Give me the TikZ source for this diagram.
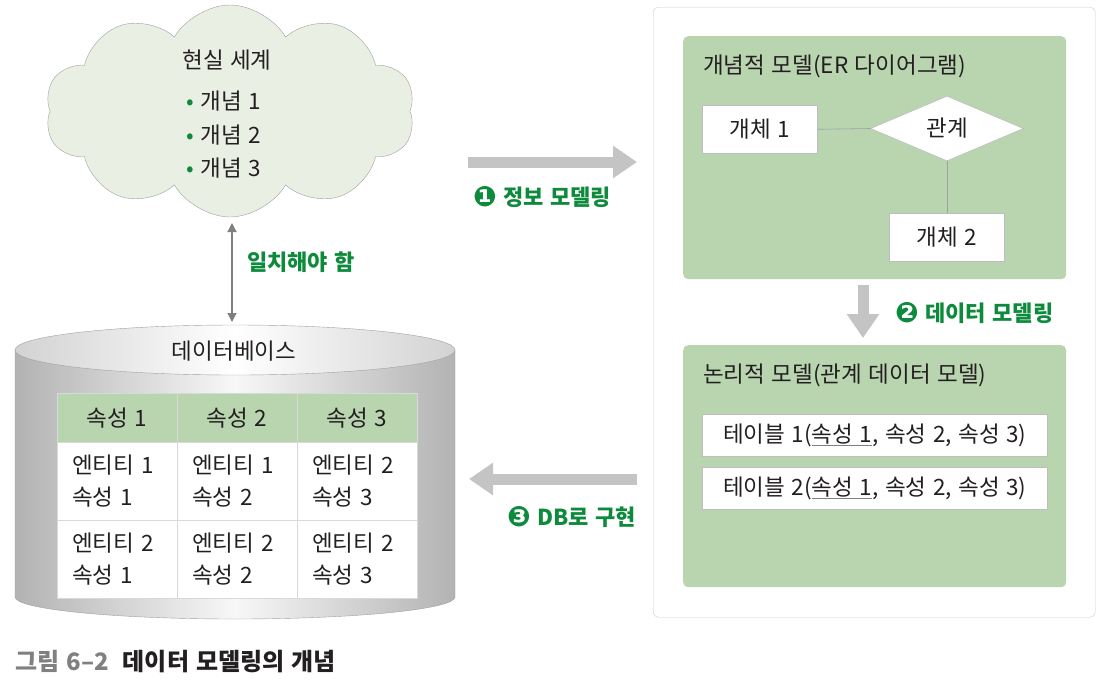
\documentclass[tikz,border=0pt]{standalone}
\usepackage{fontspec}
\setmainfont{Noto Sans CJK KR}[WordSpace=1.3]
\newfontfamily\dingfont{DejaVu Sans}
\usetikzlibrary{shapes.symbols,shapes.geometric,arrows.meta}
\definecolor{boxgreen}{HTML}{B8D5B0}
\definecolor{cloudfill}{HTML}{E9EFE2}
\definecolor{txtgreen}{HTML}{0E8A3C}
\definecolor{arrowgray}{HTML}{C4C4C4}
\definecolor{linegray}{HTML}{A0A0A0}
\definecolor{txt}{HTML}{231F20}
\newcommand\gul[1]{\leavevmode\rlap{\color{gray}\underline{\phantom{#1}}}#1}
\newcommand\dnum[1]{\raisebox{-1pt}{\dingfont\fontsize{28}{28}\selectfont #1}}
\begin{document}
\begin{tikzpicture}[x=1pt,y=-1pt, font=\fontsize{22.5}{26}\selectfont, text=txt,
  whitebox/.style={draw=linegray!70, fill=white, line width=0.6pt, inner sep=0pt},
  greenbox/.style={draw=none, fill=boxgreen, rounded corners=5pt, inner sep=0pt},
  bigarrow/.style={draw=arrowgray, line width=11pt, -{Triangle[length=24pt,width=31pt]}},
  glabel/.style={text=txtgreen, font=\fontsize{22}{26}\selectfont\bfseries, inner sep=0pt},
  hcell/.style={draw=gray!30, fill=boxgreen, minimum width=120pt, minimum height=49pt, inner sep=0pt},
  tcell/.style={draw=gray!30, fill=white, minimum width=120pt, minimum height=78pt, inner sep=0pt, align=left, text width=90pt, font=\fontsize{22.5}{32}\selectfont},
  ]
\useasboundingbox (0,0) rectangle (1103,689);

% cloud
\node[cloud, cloud puffs=10, cloud puff arc=120, aspect=1.75, draw=linegray, fill=cloudfill,
      minimum width=370pt, minimum height=212pt, inner sep=0pt] (cloud) at (230,111) {};
\node (world) at (227,60) {현실 세계};
\node[anchor=west] (c1) at (183,101) {\textcolor{txtgreen}{•} 개념 1};
\node[anchor=west] (c2) at (183,135) {\textcolor{txtgreen}{•} 개념 2};
\node[anchor=west] (c3) at (183,168) {\textcolor{txtgreen}{•} 개념 3};

% match arrow
\coordinate (m1) at (232,223);
\coordinate (m2) at (232,322);
\draw[draw=gray, line width=1.2pt, {Triangle[length=9pt,width=9pt]}-{Triangle[length=9pt,width=9pt]}] (m1) -- (m2);
\node[glabel, anchor=west] (match) at (247,262) {일치해야 함};

% cylinder
\path[left color=gray!60, right color=gray!60, middle color=gray!6, draw=linegray]
  (15,350) -- (15,597) arc[start angle=180, end angle=360, x radius=220pt, y radius=22pt] -- (455,350) -- cycle;
\path[left color=gray!35, right color=gray!35, middle color=white, draw=linegray]
  (235,350) ellipse[x radius=220pt, y radius=25pt];
\node (dbtitle) at (234,351) {데이터베이스};

% table
\node[hcell] (h1) at (117,418) {속성 1};
\node[hcell] (h2) at (237,418) {속성 2};
\node[hcell] (h3) at (357,418) {속성 3};
\node[tcell] (r11) at (117,481.5) {엔티티 1\\속성 1};
\node[tcell] (r12) at (237,481.5) {엔티티 1\\속성 2};
\node[tcell] (r13) at (357,481.5) {엔티티 2\\속성 3};
\node[tcell] (r21) at (117,559.5) {엔티티 2\\속성 1};
\node[tcell] (r22) at (237,559.5) {엔티티 2\\속성 2};
\node[tcell] (r23) at (357,559.5) {엔티티 2\\속성 3};

% right panel
\node[draw=gray!40, fill=white, rounded corners=5pt, anchor=north west,
      minimum width=442pt, minimum height=610pt, inner sep=0pt] (panel) at (653,7) {};
\node[greenbox, anchor=north west, minimum width=383pt, minimum height=243pt] (cm) at (683,36) {};
\node[anchor=west, inner sep=0pt] (cmtitle) at (703,66) {개념적 모델(ER 다이어그램)};
\node[whitebox, anchor=north west, minimum width=115pt, minimum height=48pt] (e1) at (702,105) {개체 1};
\node[diamond, draw=linegray!70, fill=white, line width=0.6pt, inner sep=0pt,
      minimum width=153pt, minimum height=65pt] (rel) at (947,128.5) {관계};
\node[whitebox, minimum width=115pt, minimum height=48pt] (e2) at (947,237) {개체 2};
\draw[linegray, line width=0.6pt] (e1.east) -- (rel.west);
\draw[linegray, line width=0.6pt] (rel.south) -- (e2.north);

\coordinate (d1) at (863,285);
\coordinate (d2) at (863,338);
\draw[bigarrow] (d1) -- (d2);
\node[glabel, anchor=west] (l2) at (895,313) {\dnum{❷} 데이터 모델링};

\node[greenbox, anchor=north west, minimum width=383pt, minimum height=242pt] (lm) at (683,345) {};
\node[anchor=west, inner sep=0pt] (lmtitle) at (703,375) {논리적 모델(관계 데이터 모델)};
\node[whitebox, anchor=north west, minimum width=345pt, minimum height=42pt] (t1) at (702,414) {테이블 1(\gul{속성 1}, 속성 2, 속성 3)};
\node[whitebox, anchor=north west, minimum width=345pt, minimum height=42pt] (t2) at (702,467) {테이블 2(\gul{속성 1}, 속성 2, 속성 3)};

% big arrows
\coordinate (a1) at (468,162);
\coordinate (a2) at (637,162);
\draw[bigarrow] (a1) -- (a2);
\node[glabel, anchor=west] (l1) at (473,197) {\dnum{❶} 정보 모델링};

\coordinate (b1) at (637,479);
\coordinate (b2) at (469,479);
\draw[bigarrow] (b1) -- (b2);
\node[glabel, anchor=west] (l3) at (507,517) {\dnum{❸} DB로 구현};

% caption
\node[anchor=west, inner sep=0pt, font=\fontsize{24}{28}\selectfont\bfseries] (cap) at (15,662)
  {\textcolor{gray}{그림 6–2}\hspace{14pt}데이터 모델링의 개념};
\end{tikzpicture}
\end{document}
